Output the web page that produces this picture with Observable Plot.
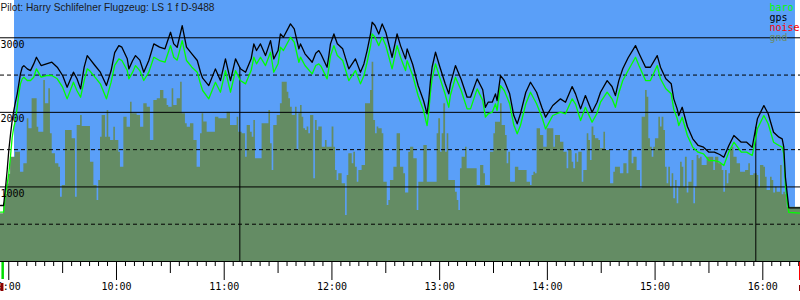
<!DOCTYPE html>
<html><head><meta charset="utf-8">
<script src="https://cdn.jsdelivr.net/npm/d3@7"></script>
<script src="https://cdn.jsdelivr.net/npm/@observablehq/plot@0.6"></script>
<style>html,body{margin:0;padding:0;background:#fff}</style>
</head><body><div id="chart"></div>
<script>
const title = "Pilot: Harry Schlifelner Flugzeug: LS 1 f D-9488";
// minutes after 09:00
const flightMinutes = [
-4.6,-2.9,-1.8,-0.9,0,1.0,1.9,2.8,3.7,4.7,
5.6,6.5,7.5,8.4,10.3,12.1,13.9,15.4,18,21,
24,27,30,32.5,36,38,40,42,43.7,45,
48,51,54.4,57,59,61.3,63,66,66.9,69,
70.6,73,75.2,78,80.8,84,87,90.1,91.9,93.8,
96.6,99,102,105,106.8,108,111.4,115.1,117.9,120.7,
123.5,126.3,129,131.9,135,136.5,138,140.2,143,145.8,
147.6,150,151.3,153,156.9,159,161.6,162.5,165,169,
171,172.7,174,177.3,178.3,179.2,181.1,183,186,189.4,
193.1,195.9,197.8,199.6,201.5,202.4,204,206.1,208,210,
213.5,216.3,218.2,221,221.9,225,228,231,233,233.9,
234.9,235.8,237.7,240,243,245.1,246,248.8,252,255.3,
257.2,260.9,264,265.5,267,269.3,271.1,272,273.9,276,
279,281.3,283.2,285,288,290.6,294,297,299,303,
307.3,310.1,313.8,315.7,318.5,321.2,324.9,327.7,329.6,333.3,
336,337.9,339.8,342,345,349.1,351,354.7,357.4,361.2,
363,366,369,370.4,372.3,373.2,375.1,378,381,384,
387,390,393,396,398.3,401.1,403.9,408,411,414.1,
417,420.6,423,426,429,430.8,431.7,432.6,433.6,434.5,
441];
const gpsAlt = [
751,751,996,1220,1488,1712,1890,2024,2136,2248,
2382,2516,2605,2627,2583,2560,2650,2739,2628,2651,
2673,2606,2494,2337,2539,2450,2315,2606,2761,2720,
2628,2539,2359,2561,2800,2895,2874,2718,2583,2695,
2761,2700,2538,2695,2918,2874,2852,3074,2918,2873,
3164,2874,2785,2695,2538,2458,2359,2583,2426,2717,
2426,2717,2584,2538,2718,2918,2829,2918,2761,2962,
2717,2829,3051,3008,3186,3120,2851,2918,2785,2672,
2794,2828,2776,2605,2761,2918,3051,2919,2852,2583,
2717,2538,2650,2828,3051,3208,3165,3051,3186,3075,
2739,3051,2895,2717,2851,2642,2360,2159,1980,2158,
2427,2605,2806,2619,2391,2248,2382,2627,2441,2203,
2203,2449,2303,2068,2136,2136,2248,2158,2493,2427,
2249,1957,1846,1981,2270,2404,2270,2061,1935,2092,
2181,2136,2346,2248,2047,2225,2001,2136,2270,2426,
2347,2225,2426,2584,2732,2895,2794,2605,2605,2761,
2606,2450,2383,2181,2047,1957,2068,1810,1645,1556,
1533,1466,1466,1435,1398,1555,1689,1600,1600,1532,
1914,2091,1981,1734,1667,1645,1533,1130,907,720,
720];
const baroAlt = [
661,661,907,1041,1175,1421,1666,1800,1890,2068,
2248,2382,2449,2471,2427,2427,2471,2583,2472,2494,
2494,2450,2338,2181,2405,2290,2203,2427,2583,2560,
2472,2383,2181,2405,2630,2717,2695,2561,2449,2539,
2627,2560,2427,2539,2739,2695,2673,2895,2739,2700,
2962,2695,2606,2539,2382,2293,2181,2404,2270,2560,
2270,2560,2427,2382,2561,2739,2651,2739,2627,2806,
2538,2651,2873,2829,3007,2941,2672,2740,2628,2516,
2628,2650,2615,2449,2600,2760,2895,2763,2695,2426,
2560,2382,2490,2672,2890,3051,3008,2895,3007,2897,
2583,2895,2739,2560,2694,2494,2226,2025,1823,2000,
2270,2450,2650,2472,2249,2068,2230,2471,2293,2047,
2047,2315,2159,1935,1981,2002,2114,2025,2359,2293,
2115,1830,1712,1824,2115,2270,2115,1935,1779,1958,
2002,1980,2181,2110,1890,2068,1868,1990,2136,2270,
2182,2068,2260,2427,2561,2739,2628,2426,2426,2627,
2450,2316,2249,2040,1920,1823,1935,1690,1533,1466,
1444,1354,1354,1332,1287,1470,1600,1466,1466,1421,
1780,1957,1847,1600,1556,1533,1444,1020,800,660,
648];
// ground elevation profile: [minutes after 09:00, metres]
const groundProfile = [
[-4.6,640],[-2.9,780],[-1.8,900],[-0.9,1040],[0,1170],[1.0,1399],[3.7,1466],[6.5,1198],[8.4,1310],[10.3,1914],
[11.2,1780],[13.0,2182],[15.8,1801],[16.7,1734],[19.5,2427],[20.4,2115],[22.3,2316],[23.2,1712],[24.2,1444],[26.0,1310],
[27.9,1265],[28.8,862],[29.8,1019],[31.6,1757],[35.3,1645],[37.2,862],[38.1,1824],[40.0,1958],[40.9,1810],[45.5,1332],
[47.4,1019],[49.2,818],[50.1,1086],[51.1,1667],[52.0,1958],[53.9,1667],[54.8,2025],[55.7,1667],[56.7,1623],[58.5,1801],
[59.4,1623],[61.3,1466],[62.2,1265],[64.1,1935],[65.9,1801],[67.8,2136],[68.7,1981],[71.5,1958],[73.4,1801],[75.2,2115],
[77.1,2069],[78.9,1623],[80.8,2159],[82.7,2182],[84.5,2293],[86.4,2182],[88.2,2092],[89.1,2069],[91.0,2316],[91.9,2092],
[93.8,2182],[95.7,2405],[96.6,1981],[98.4,1847],[99.4,1801],[101.2,1847],[103.1,1623],[104.9,1265],[106.8,1712],[107.7,1981],
[108.6,1870],[110.5,1734],[115.1,1935],[117.0,1914],[121.6,2003],[123.5,1824],[127.2,1935],[128.1,1734],[130.0,1712],[131.9,1399],
[132.8,1824],[134.6,1734],[135.6,1667],[136.5,1891],[137.4,1377],[141.1,1847],[144.9,2025],[145.8,1578],[146.7,1220],[147.6,1824],
[149.5,1958],[151.3,2115],[152.3,2405],[155.1,2271],[156.0,2182],[156.9,2069],[157.9,1958],[159.7,2069],[160.6,1489],[161.6,1981],
[162.5,2092],[163.4,1935],[164.3,1780],[165.3,1757],[166.2,1802],[167.1,1712],[168.1,1958],[169.9,1109],[170.8,1891],[171.8,1757],
[172.7,1802],[174.6,1533],[176.4,1623],[177.3,1533],[180.1,1802],[181.1,1533],[182.0,1220],[182.9,1086],[183.8,1176],[185.7,1041],
[187.6,617],[188.5,1153],[189.4,1444],[191.3,1310],[192.2,1466],[193.1,1265],[194.1,1064],[195.0,1220],[196.8,1287],[198.7,2115],
[201.5,2293],[202.4,2673],[203.3,1891],[204.3,1712],[205.2,1802],[206.1,1780],[208.0,1712],[208.9,1064],[210.8,751],[211.7,818],
[212.6,1086],[214.5,1265],[216.3,1712],[218.2,1265],[220.0,1176],[221.0,917],[222.8,1466],[223.8,1533],[225.6,1377],[227.5,684],
[228.4,1064],[231.2,1556],[233.1,1064],[238.6,1712],[239.5,1914],[240.5,1466],[241.4,1712],[242.3,2115],[243.3,1466],[244.2,1712],
[245.1,1086],[248.8,930],[249.8,818],[250.7,684],[251.6,1243],[252.5,1399],[254.4,1533],[255.3,1243],[260.9,1019],[262.8,1287],
[264.6,1176],[265.5,1019],[268.3,1466],[270.2,1712],[271.1,1869],[273.9,2115],[274.8,1824],[276.7,1690],[277.6,1310],[278.5,1466],
[279.5,1064],[282.2,1265],[284.1,1220],[288.7,1064],[290.6,1019],[291.5,1153],[292.5,1198],[293.4,1176],[294.3,1780],[296.2,1690],
[298.0,1533],[299.9,1780],[303.6,1533],[304.5,1690],[307.3,1600],[309.2,1466],[311.0,1243],[311.9,1489],[313.8,1332],[314.7,1243],
[315.7,1444],[316.6,1332],[317.5,1466],[319.4,1064],[320.3,1220],[322.2,1712],[323.1,1623],[324.0,1355],[324.9,1802],[325.9,1690],
[326.8,1645],[328.7,1623],[329.6,1511],[331.5,1734],[332.4,1489],[335.2,1041],[337.0,1198],[337.9,1265],[340.7,1176],[342.6,1310],
[344.4,1176],[345.4,1489],[347.2,1310],[348.2,1399],[350.0,1220],[351.9,974],[352.8,1935],[354.7,2293],[355.6,2204],[356.5,1645],
[357.4,1533],[358.4,1399],[359.3,1533],[360.2,1645],[362.1,1935],[363.0,1802],[363.9,1935],[364.9,1757],[365.8,1265],[366.7,1041],
[367.6,1265],[368.6,997],[369.5,1176],[370.4,840],[371.4,1086],[372.3,773],[373.2,997],[374.2,1332],[375.1,1265],[376.0,997],
[376.9,1399],[377.9,917],[378.8,1064],[380.6,1355],[381.6,773],[382.5,997],[383.4,1422],[384.4,1377],[385.3,1399],[386.2,1287],
[389.0,1399],[392.7,1220],[393.6,1399],[395.5,1310],[397.4,1220],[398.3,930],[399.2,1220],[400.2,1041],[401.1,1176],[402.0,1489],
[402.9,1533],[403.9,1399],[405.7,1310],[407.6,1198],[410.4,1220],[412.2,1310],[413.1,1153],[415.0,1176],[416.9,1153],[417.8,997],
[418.7,1287],[420.6,1265],[421.5,1131],[422.4,952],[424.3,1131],[425.2,1086],[426.1,917],[427.1,997],[428.0,930],[429.9,1287],
[430.8,895],[431.7,930],[432.6,895],[433.6,728],[441,728]];
const hourLabels = ["9:00","10:00","11:00","12:00","13:00","14:00","15:00","16:00"];
const gridSolid = [1000, 2000, 3000];
const gridDashed = [500, 1500, 2500];
const yLabels = ["1000", "2000", "3000"];
const eventMinutes = [128.7, 416.1];
const eventAlt = [2600, 1800];
const legendLabels = ["baro", "gps", "noise", "gnd"];
const legendColors = ["#00ff00", "#000000", "#ff0000", "#6a8c6a"];
const skyMinutes = [3.2, 438.2];
const takeoffMinute = -3.4;
const landingMinute = 441;
const xDomainMinutes = [-4.61, 441.0];
const yMax = 3500;

const SKY = "#5a9ff8", GND = "#648c64";
const base = Date.UTC(2000, 0, 1, 9, 0);
const T = m => new Date(base + m * 60000);

const flight = flightMinutes.map((m, i) => ({t: T(m), gps: gpsAlt[i], baro: baroAlt[i]}));
const ground = groundProfile.map(([m, a]) => ({t: T(m), alt: a}));
const events = eventMinutes.map((m, i) => ({t: T(m), alt: eventAlt[i]}));
const hourTicks = hourLabels.map(s => { const [h, mm] = s.split(":").map(Number); return (h - 9) * 60 + mm; });
const allTicks = d3.range(0, 441, 5);
const shortTicks = allTicks.filter(m => m % 30 !== 0);
const midTicks = allTicks.filter(m => m % 30 === 0 && m % 60 !== 0);
const mono = "DejaVu Sans Mono";

const chart = Plot.plot({
  width: 800, height: 300,
  marginTop: 0, marginRight: 0, marginBottom: 39, marginLeft: 0,
  x: {type: "utc", domain: xDomainMinutes.map(T), axis: null},
  y: {domain: [0, yMax], axis: null},
  style: {fontFamily: mono, fontSize: "10px", background: "white", overflow: "visible"},
  marks: [
    Plot.rect([skyMinutes], {x1: d => T(d[0]), x2: d => T(d[1]), y1: 0, y2: yMax, fill: SKY}),
    Plot.areaY(ground, {x: "t", y: "alt", curve: "step-after", fill: GND}),
    Plot.ruleY(gridSolid, {stroke: "#000", strokeWidth: 1}),
    Plot.ruleY(gridDashed, {stroke: "#000", strokeWidth: 1, strokeDasharray: "4,3"}),
    Plot.ruleX(events, {x: "t", y1: 0, y2: "alt", stroke: "#000", strokeWidth: 1}),
    Plot.lineY(flight, {x: "t", y: "baro", stroke: "#00ff00", strokeWidth: 1.3}),
    Plot.lineY(flight, {x: "t", y: "gps", stroke: "#000", strokeWidth: 1.3}),
    Plot.text(yLabels, {y: d => +d, text: d => d, frameAnchor: "left", textAnchor: "start", lineAnchor: "top", dy: 3, fill: "#000", fontFamily: mono, fontSize: 10}),
    Plot.text([title], {text: d => d, frameAnchor: "top-left", textAnchor: "start", lineAnchor: "top", dy: 3, fill: "#1a1a1a", fontFamily: "Liberation Sans", fontSize: 10.2}),
    ...legendLabels.map((lab, i) => Plot.text([lab], {text: d => d, frameAnchor: "top-right", textAnchor: "start", lineAnchor: "top", dx: -31, dy: 3 + 10.2 * i, fill: legendColors[i], fontFamily: mono, fontSize: 10})),
    Plot.ruleY([0], {stroke: "#000"}),
    Plot.ruleX(shortTicks, {x: T, y1: 0, y2: 0, insetTop: 1, insetBottom: -5, stroke: "#000"}),
    Plot.ruleX(midTicks, {x: T, y1: 0, y2: 0, insetTop: 1, insetBottom: -12, stroke: "#000"}),
    Plot.ruleX(hourTicks, {x: T, y1: 0, y2: 0, insetTop: 1, insetBottom: -19, stroke: "#000"}),
    Plot.text(hourTicks, {x: T, text: (d, i) => hourLabels[i], frameAnchor: "bottom", lineAnchor: "top", dy: 21, fill: "#000", fontFamily: mono, fontSize: 10}),
    Plot.ruleX([takeoffMinute], {x: T, y1: 0, y2: 0, insetTop: 1, insetBottom: -18, stroke: "#00dd00", strokeWidth: 2.5}),
    Plot.ruleX([takeoffMinute - 0.4], {x: T, y1: 0, y2: 0, insetTop: 22, insetBottom: -30, stroke: "#8b0000", strokeWidth: 3}),
    Plot.ruleX([landingMinute], {x: T, y1: 0, y2: 0, insetTop: 1, insetBottom: -19, stroke: "#ff0000", strokeWidth: 3}),
    Plot.ruleX([landingMinute], {x: T, y1: 0, y2: 0, insetTop: 24, insetBottom: -30, stroke: "#8b0000", strokeWidth: 3})
  ]
});
document.getElementById("chart").appendChild(chart);
</script>
</body></html>
